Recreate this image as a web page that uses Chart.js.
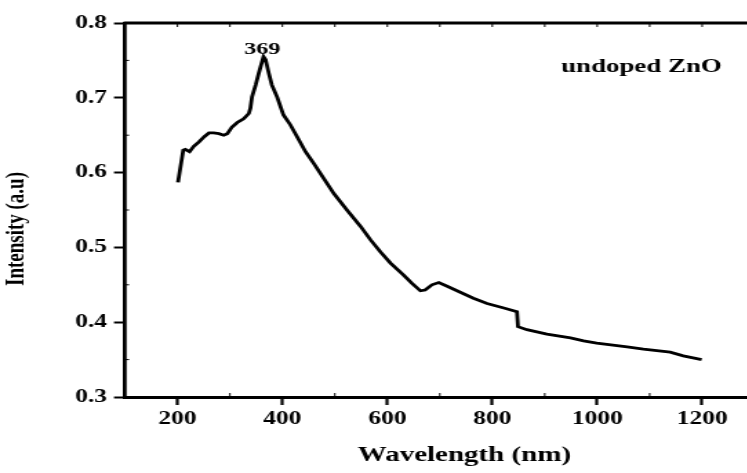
<!DOCTYPE html>
<html>
<head>
<meta charset="utf-8">
<script src="https://cdn.jsdelivr.net/npm/chart.js@4.4.0/dist/chart.umd.min.js"></script>
<style>
html,body{margin:0;padding:0;background:#fff;overflow:hidden;}
#wrap{width:756px;height:473px;}
</style>
</head>
<body>
<div id="wrap"><canvas id="Plot" width="548" height="473" style="width:756px;height:473px;"></canvas></div>
<script>
// values
var wavelength = [201, 211, 215, 223, 231, 241, 251, 260, 269, 279, 288, 295, 304, 314, 326, 336, 339, 342, 349, 355,
  364, 368, 374, 380, 390, 402, 415, 428, 444, 460, 479, 498, 523, 549, 568, 587, 606, 631, 647, 663,
  672, 685, 698, 714, 739, 764, 790, 822, 847, 849, 866, 904, 949, 974, 999, 1057, 1088, 1139, 1164, 1199];
var intensity = [0.587, 0.630, 0.631, 0.628, 0.635, 0.641, 0.648, 0.653, 0.653, 0.652, 0.650, 0.652, 0.661, 0.667, 0.672, 0.679, 0.686, 0.701, 0.717, 0.733,
  0.755, 0.751, 0.733, 0.717, 0.701, 0.677, 0.664, 0.648, 0.628, 0.612, 0.592, 0.572, 0.550, 0.528, 0.510, 0.494, 0.479, 0.463, 0.452, 0.442,
  0.443, 0.450, 0.453, 0.448, 0.440, 0.432, 0.425, 0.419, 0.414, 0.394, 0.390, 0.384, 0.379, 0.375, 0.372, 0.367, 0.364, 0.360, 0.355, 0.350];

var xTicks = [200, 400, 600, 800, 1000, 1200];
var xMinor = [300, 500, 700, 900, 1100];
var topTicks = [200, 300, 400, 500, 600, 700, 800, 900, 1000, 1100, 1200];
var yTicks = [0.3, 0.4, 0.5, 0.6, 0.7, 0.8];
var yMinor = [0.35, 0.45, 0.55, 0.65, 0.75];

var peakLabel = '369';
var sampleLabel = 'undoped ZnO';
var xTitle = 'Wavelength (nm)';
var yTitle = 'Intensity (a.u)';

var FONT = "'Liberation Serif', 'Times New Roman', serif";

var points = wavelength.map(function(w, i){ return {x: w, y: intensity[i]}; });

// frame top, minor ticks and the texts
var extras = {
  id: 'extras',
  afterDraw: function(chart){
    var c = chart.ctx, a = chart.chartArea;
    var xs = chart.scales.x, ys = chart.scales.y;
    c.save();
    c.strokeStyle = 'black';
    c.lineWidth = 3;
    c.beginPath();
    c.moveTo(a.left - 1, a.top);
    c.lineTo(a.right + 5, a.top);
    c.stroke();

    c.lineWidth = 1;
    c.beginPath();
    topTicks.forEach(function(v){
      var p = xs.getPixelForValue(v);
      c.moveTo(p, a.top); c.lineTo(p, a.top + 4);
    });
    xMinor.forEach(function(v){
      var p = xs.getPixelForValue(v);
      c.moveTo(p, a.bottom); c.lineTo(p, a.bottom - 4);
    });
    yMinor.forEach(function(v){
      var p = ys.getPixelForValue(v);
      c.moveTo(a.left, p); c.lineTo(a.left + 3, p);
    });
    c.stroke();

    c.fillStyle = 'black';
    // peak label
    var k = intensity.indexOf(Math.max.apply(null, intensity));
    c.font = 'bold 17.5px ' + FONT;
    c.textAlign = 'center';
    c.textBaseline = 'alphabetic';
    c.fillText(peakLabel, xs.getPixelForValue(wavelength[k]) - 1, ys.getPixelForValue(intensity[k]) - 3);

    c.font = 'bold 19.5px ' + FONT;
    c.fillText(sampleLabel, a.right - 82, a.top + 49);

    c.font = 'bold 21px ' + FONT;
    c.textBaseline = 'middle';
    c.fillText(xTitle, a.left + 246, a.bottom + 59);

    c.translate(12.5, 229);
    c.rotate(-Math.PI / 2);
    c.font = 'bold 19px ' + FONT;
    c.fillText(yTitle, 0, 0);
    c.restore();
  }
};

var myChart = new Chart(document.getElementById('Plot').getContext('2d'), {
  type: 'line',
  data: {
    datasets: [{
      data: points,
      borderColor: 'black',
      backgroundColor: 'black',
      borderWidth: 2.8,
      pointRadius: 0,
      tension: 0,
      fill: false
    }]
  },
  options: {
    responsive: false,
    animation: false,
    devicePixelRatio: 1,
    layout: {padding: {top: 23, right: 1, left: 0, bottom: 0}},
    plugins: {
      legend: {display: false},
      tooltip: {enabled: false}
    },
    scales: {
      x: {
        type: 'linear',
        min: 100,
        max: 1300,
        afterBuildTicks: function(scale){ scale.ticks = xTicks.map(function(v){ return {value: v}; }); },
        afterFit: function(scale){ scale.height = 76; },
        border: {display: true, color: 'black', width: 3},
        grid: {drawOnChartArea: false, drawTicks: true, tickLength: 8, tickColor: 'black', tickWidth: 2.2},
        ticks: {
          color: 'black',
          padding: 3,
          maxRotation: 0,
          autoSkip: false,
          font: {family: FONT, size: 18.5, weight: 'bold'},
          callback: function(v){ return String(v); }
        }
      },
      y: {
        min: 0.3,
        max: 0.8,
        afterBuildTicks: function(scale){ scale.ticks = yTicks.map(function(v){ return {value: v}; }); },
        afterFit: function(scale){ scale.width = 90.6; },
        border: {display: true, color: 'black', width: 2.8},
        grid: {drawOnChartArea: false, drawTicks: true, tickLength: 8, tickColor: 'black', tickWidth: 2},
        ticks: {
          color: 'black',
          padding: 5,
          autoSkip: false,
          font: {family: FONT, size: 18.5, weight: 'bold'},
          callback: function(v){ return v.toFixed(1); }
        }
      }
    }
  },
  plugins: [extras]
});
</script>
</body>
</html>
